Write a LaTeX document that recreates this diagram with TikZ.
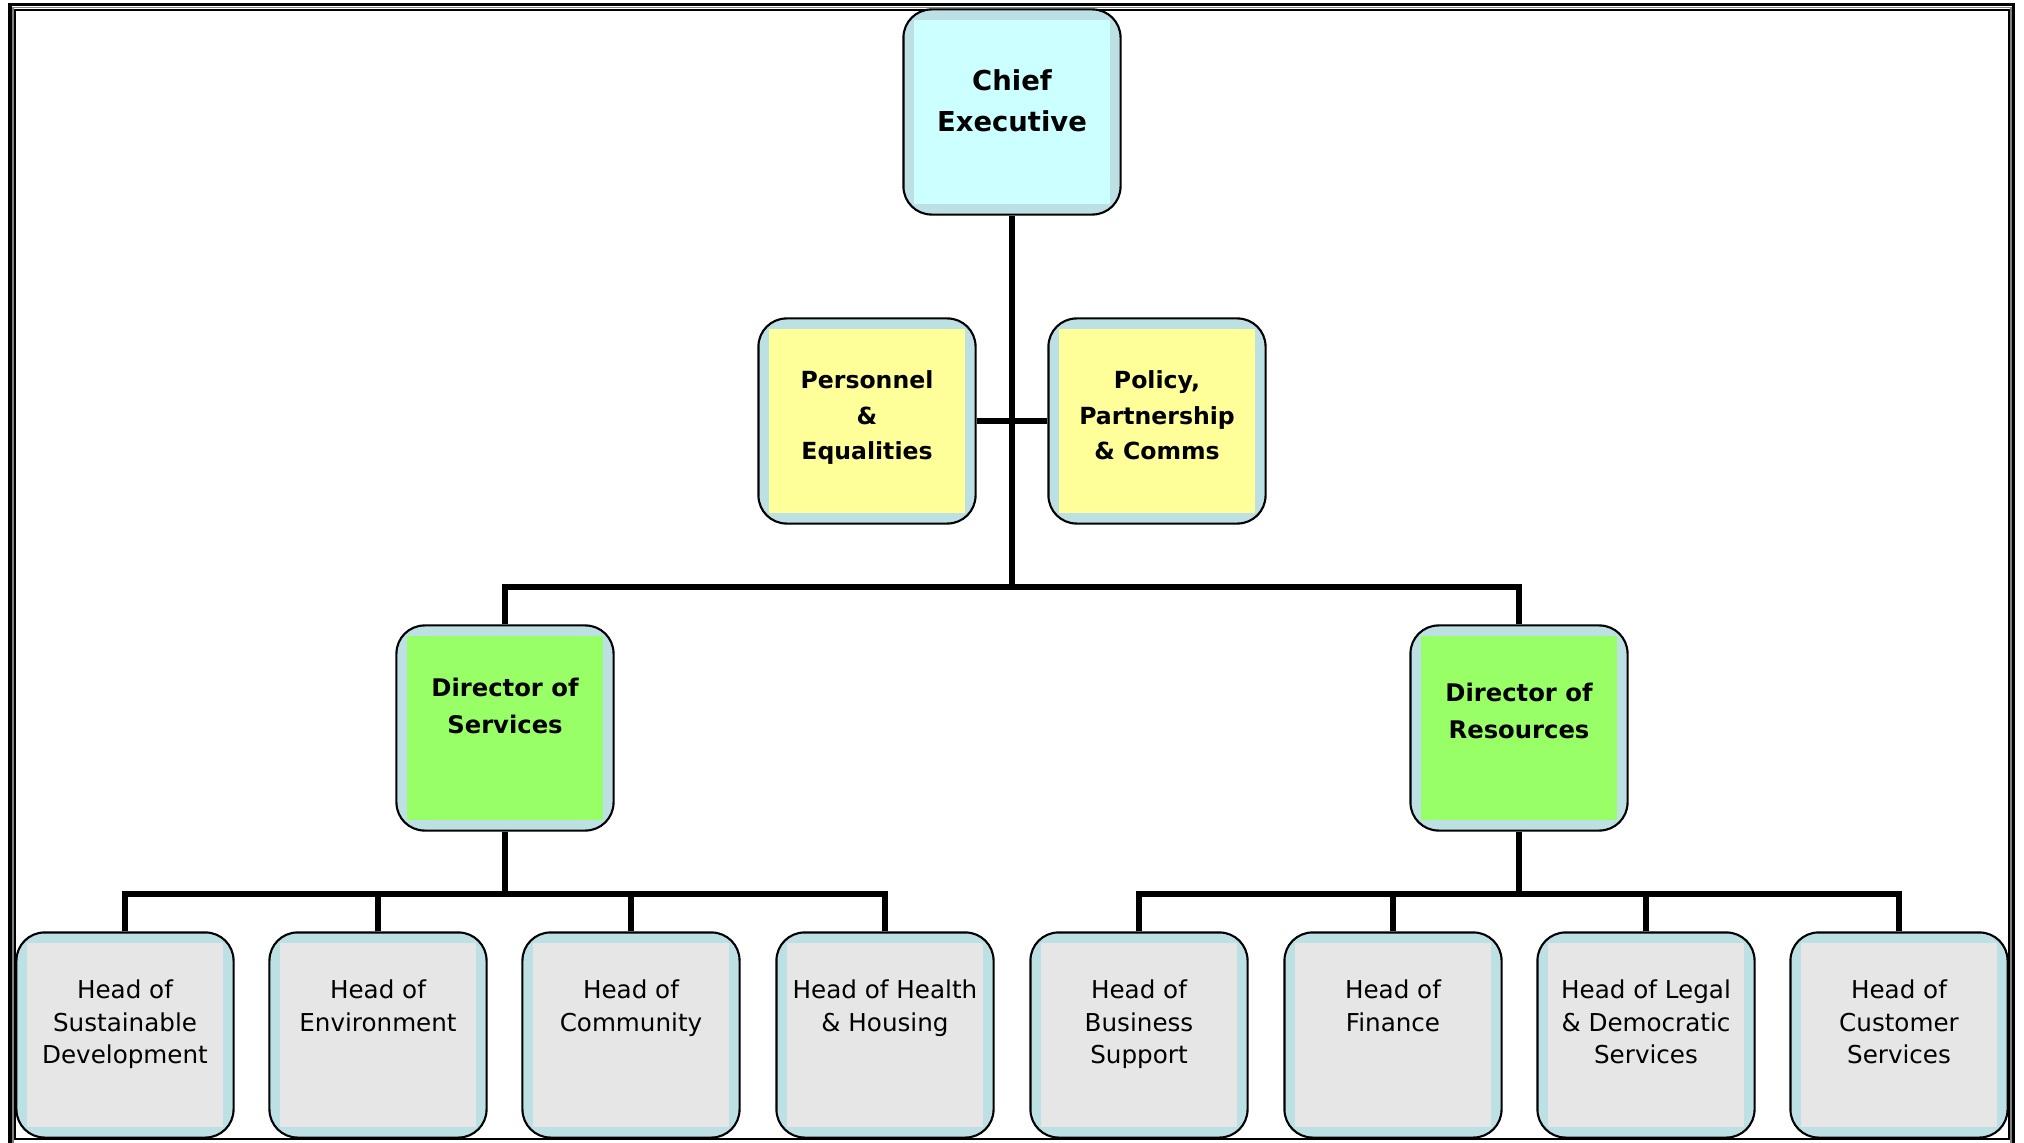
\documentclass[tikz,border=0pt]{standalone}
\usepackage{fontspec}
\setmainfont{DejaVu Sans}
\usetikzlibrary{positioning}
\definecolor{rim}{RGB}{188,224,228}
\definecolor{ceofill}{RGB}{204,255,255}
\definecolor{stafffill}{RGB}{255,255,153}
\definecolor{dirfill}{RGB}{153,255,102}
\definecolor{headfill}{RGB}{230,230,230}
\newcommand{\boxtext}[2][1.1cm]{\parbox[c][#1][t]{2.1cm}{\centering #2}}

\begin{document}
\begin{tikzpicture}
		[x=0.01cm,y=-0.01cm,
		post/.style={draw=black,line width=0.6pt,rounded corners=8pt,fill=rim,
			inner sep=0pt,minimum width=2.17cm,minimum height=2.05cm,
			path picture={\fill[#1,sharp corners] ([shift={(0.11cm,0.11cm)}]path picture bounding box.south west)
				rectangle ([shift={(-0.11cm,-0.11cm)}]path picture bounding box.north east);}},
		boss/.style={font=\bfseries\fontsize{7.8}{11.6}\selectfont},
		staff/.style={font=\bfseries\fontsize{6.7}{10}\selectfont},
		dir/.style={font=\bfseries\fontsize{6.9}{10.6}\selectfont},
		head/.style={font=\fontsize{7}{9.2}\selectfont},
		link/.style={line width=1.45pt}]
		\useasboundingbox (0,0) rectangle (2024,1143);
		% page frame
		\draw[line width=1.1pt] (10,4.5) rectangle (2013.5,1160);
		\draw[gray,line width=0.4pt] (13,7.5) rectangle (2011,1160);
		\draw[line width=0.7pt] (15,10) rectangle (2009,1139);
		
		\node[post=ceofill,boss] (ceo) at (1012,112) {\boxtext[0.85cm]{Chief\\ Executive}};
		\node[post=stafffill,staff] (pers) at (867,421) {\boxtext[1.0cm]{Personnel\\ \&\\ Equalities}};
		\node[post=stafffill,staff] (pol) at (1157,421) {\boxtext[1.0cm]{Policy,\\ Partnership\\ \& Comms}};
		\node[post=dirfill,dir] (dsrv) at (505,728) {\boxtext[1.0cm]{Director of\\ Services}};
		\node[post=dirfill,dir] (dres) at (1519,728) {\boxtext[0.9cm]{Director of\\ Resources}};
		
		\node[post=headfill,head] (hsd) at (125,1035) {\boxtext{Head of\\ Sustainable\\ Development}};
		\node[post=headfill,head] (henv) at (378,1035) {\boxtext{Head of\\ Environment}};
		\node[post=headfill,head] (hcom) at (631,1035) {\boxtext{Head of\\ Community}};
		\node[post=headfill,head] (hhh) at (885,1035) {\boxtext{Head of Health\\ \& Housing}};
		\node[post=headfill,head] (hbs) at (1139,1035) {\boxtext{Head of\\ Business\\ Support}};
		\node[post=headfill,head] (hfin) at (1393,1035) {\boxtext{Head of\\ Finance}};
		\node[post=headfill,head] (hleg) at (1646,1035) {\boxtext{Head of Legal\\ \& Democratic\\ Services}};
		\node[post=headfill,head] (hcus) at (1899,1035) {\boxtext{Head of\\ Customer\\ Services}};
		
		\coordinate (bus) at (1012,587);
		\coordinate (sbus) at (505,894);
		\coordinate (rbus) at (1519,894);
		
		\draw[link] (ceo.south) -- (bus);
		\draw[link] (pers.east) -- (pol.west);
		\draw[link] (dsrv.north) |- (bus) -| (dres.north);
		\draw[link] (dsrv.south) -- (sbus);
		\draw[link] (dres.south) -- (rbus);
		\draw[link] (hsd.north) |- (sbus) -| (hhh.north);
		\draw[link] (hbs.north) |- (rbus) -| (hcus.north);
		\foreach \from/\to in 
		{henv/sbus, hcom/sbus, hfin/rbus, hleg/rbus}
		\draw[link] (\from.north) -- (\from.north |- \to);
\end{tikzpicture}
\end{document}
